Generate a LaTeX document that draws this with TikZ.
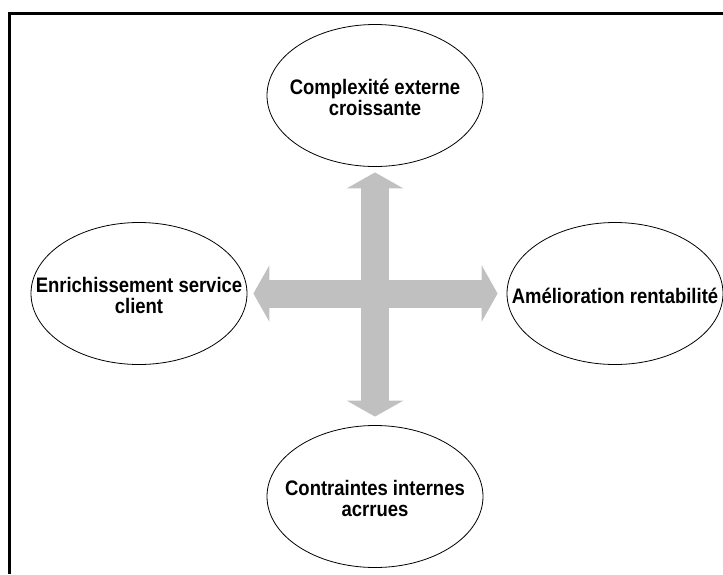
\documentclass[tikz,border=0pt]{standalone}
\usepackage{fontspec}
\setmainfont{Liberation Sans}
\newfontfamily\goalfont{Liberation Sans}[FakeStretch=0.88]
\usetikzlibrary{shapes.geometric,arrows.meta}
\definecolor{crossgray}{HTML}{C0C0C0}

\begin{document}
\begin{tikzpicture}[x=1pt, y=-1pt,
  goal/.style={draw, ellipse, line width=0.8pt, minimum width=216pt, minimum height=142pt, inner sep=0pt},
  goaltext/.style={align=center, yshift=-2pt, font=\goalfont\fontsize{21}{21}\selectfont\bfseries},
  cross/.style={line width=28pt, crossgray, {Triangle[length=16pt,width=56pt]}-{Triangle[length=16pt,width=56pt]}}]
  \useasboundingbox (0,0) rectangle (723,574);
  \draw [line width=3pt] (723,13.5) -- (9.5,13.5) -- (9.5,574);
  \node [goal, label={[goaltext]center:{Complexité externe\\croissante}}] (ext) at (375,95.5) {};
  \node [goal, label={[goaltext]center:{Enrichissement service\\client}}] (cli) at (139,293.5) {};
  \node [goal, label={[goaltext]center:{Amélioration rentabilité}}] (rent) at (615,293.5) {};
  \node [goal, label={[goaltext]center:{Contraintes internes\\acrrues}}] (int) at (375,496.5) {};
  \draw [cross, shorten <=5.5pt, shorten >=8.5pt] (ext) to (int);
  \draw [cross, shorten <=6pt, shorten >=9pt] (cli) to (rent);
\end{tikzpicture}
\end{document}
